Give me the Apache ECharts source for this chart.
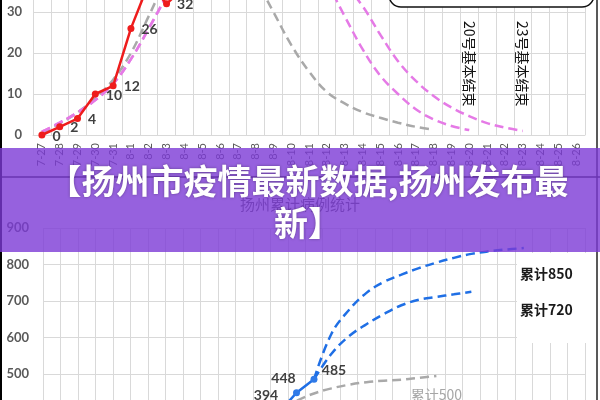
<!DOCTYPE html>
<html><head><meta charset="utf-8">
<script src="https://cdn.jsdelivr.net/npm/echarts@6/dist/echarts.min.js"></script>
<style>html,body{margin:0;padding:0;background:#fff;overflow:hidden}#c{width:600px;height:400px}</style>
</head><body><div id="c"></div>
<script>
// ---- data ----
const dates = ['7-27','7-28','7-29','7-30','7-31','8-1','8-2','8-3','8-4','8-5','8-6','8-7','8-8','8-9','8-10','8-11','8-12','8-13','8-14','8-15','8-16','8-17','8-18','8-19','8-20','8-21','8-22','8-23','8-24','8-25','8-26'];
// top chart: daily new cases
const dailyNew = [0,2,4,10,12,26,37,32,36];
const dailyLabelCount = 8;
const projGray = [0.5,2.8,5.5,9,13.5,20,29,38,45,49,49,45,38,30,22,15.5,10.5,7.7,5.6,4.2,3.0,2.0,1.3];
const projPink20 = [0.8,3,5.5,8.5,12.5,18.5,26,34,42,48,52,54,54,52,48,43,37,29,21,14.5,10,6.3,3.8,2.2,1.2];
const projPink23 = [0.8,3,5.5,8.5,12.5,18.5,26,34,43,49,53,55,56,55,52,48,43,37,31.5,24.5,18,13.2,9.5,6.7,4.6,2.9,1.8,1.0];
const endNotes = [['8-20',17.4,'20号基本结束'],['8-23',17.4,'23号基本结束']];
const topTicks = {min:0,max:40,interval:10};
// bottom chart: cumulative cases
const cumulative = [0,2,6,16,28,54,91,123,159,200,245,297,345,394,448,485];
const cumLabelIdx = [13,14,15];
const cum500Start = 12, cum500 = [365,400,426,446,460,470,477,481,484,489,494];
const cum850Start = 15, cum850 = [485,610,675,722,752,772,790,805,818,829,836,841,845];
const cum720Start = 15, cum720 = [485,555,603,636,664,688,703,711,718,725];
const cumNotes = ['累计500','累计850','累计720'];
const bottomTicks = {min:0,max:900,interval:100};
const chartTitle = '扬州累计病例统计';
const banner = '【扬州市疫情最新数据,扬州发布最\n新】';

// ---- helpers ----
function pad(start, arr){ const out = []; for(let i=0;i<start;i++) out.push('-'); return out.concat(arr); }
const numFont = 'Lato, "Liberation Sans", sans-serif';
const cjk = '"Noto Sans CJK SC", sans-serif';
const gridC = '#d9d9d9';
const labelOffsets = {13:[-13,-17],14:[-13,-14],15:[20,-9]};

const chart = echarts.init(document.getElementById('c'), null, {renderer:'canvas'});
const dashPink = {color:'#e57ae6', width:2.5, type:[9,5]};
const dashGray = {color:'#a9a9a9', width:2.5, type:[9,5]};
const dashBlue = {color:'#1f6fe5', width:2.5, type:[9,5]};

const cum500Data = pad(cum500Start, cum500).map((v,i,a)=> i===a.length-1 ? {value:v, label:{show:true, formatter:cumNotes[0], position:'bottom', distance:12, color:'#a6a6a6', fontSize:14, fontFamily:cjk}} : v);

chart.setOption({
  animation:false,
  backgroundColor:'#fff',
  title:{text:chartTitle, left:'center', top:192, textStyle:{fontSize:15, fontWeight:'normal', color:'#595959', fontFamily:cjk}},
  grid:[
    {left:33, right:15, top:-29, height:164, containLabel:false, outerBoundsMode:'none'},
    {left:43, right:15, top:228, height:328, containLabel:false, outerBoundsMode:'none'}
  ],
  xAxis:[
    {type:'category', gridIndex:0, data:dates, boundaryGap:true,
     axisLine:{lineStyle:{color:gridC}}, axisTick:{show:false},
     axisLabel:{interval:0, rotate:90, margin:8, fontSize:11, color:'#595959', fontFamily:numFont},
     splitLine:{show:true, interval:0, lineStyle:{color:gridC}}},
    {type:'category', gridIndex:1, data:dates, boundaryGap:true,
     axisLine:{lineStyle:{color:gridC}}, axisTick:{show:false}, axisLabel:{show:false},
     splitLine:{show:true, interval:0, lineStyle:{color:gridC}}}
  ],
  yAxis:[
    {type:'value', gridIndex:0, min:topTicks.min, max:topTicks.max, interval:topTicks.interval,
     axisLine:{show:false}, axisTick:{show:false},
     axisLabel:{margin:11, fontSize:13, fontWeight:'bold', color:'#595959', fontFamily:numFont},
     splitLine:{lineStyle:{color:gridC}}},
    {type:'value', gridIndex:1, min:bottomTicks.min, max:bottomTicks.max, interval:bottomTicks.interval,
     axisLine:{show:false}, axisTick:{show:false},
     axisLabel:{margin:14, fontSize:13, fontWeight:'bold', color:'#595959', fontFamily:numFont},
     splitLine:{lineStyle:{color:gridC}}}
  ],
  series:[
    {type:'line', xAxisIndex:0, yAxisIndex:0, data:projGray, smooth:0.4, symbol:'none', lineStyle:dashGray, clip:true, z:2},
    {type:'line', xAxisIndex:0, yAxisIndex:0, data:projPink20, smooth:0.4, symbol:'none', lineStyle:dashPink, clip:true, z:2,
     markPoint:{symbol:'circle', symbolSize:0, silent:true,
       label:{show:true, position:'inside', rotate:-90, color:'#111', fontSize:14, fontFamily:cjk, formatter:p=>p.name},
       data:endNotes.map(n=>({name:n[2], coord:[n[0], n[1]]}))}},
    {type:'line', xAxisIndex:0, yAxisIndex:0, data:projPink23, smooth:0.4, symbol:'none', lineStyle:dashPink, clip:true, z:2},
    {type:'line', xAxisIndex:0, yAxisIndex:0, data:dailyNew, symbol:'circle', symbolSize:7, clip:true, z:5,
     lineStyle:{color:'#ee1c1c', width:2.5}, itemStyle:{color:'#ee1c1c'},
     label:{show:true, position:'right', distance:7, offset:[0,1], fontSize:14, fontWeight:'bold', color:'#404040', fontFamily:numFont,
       formatter:p=> p.dataIndex < dailyLabelCount ? String(p.value) : ''}},
    {type:'line', xAxisIndex:1, yAxisIndex:1, data:cum500Data, smooth:0.4, symbol:'circle', symbolSize:0, showSymbol:true, lineStyle:dashGray, itemStyle:{color:'#a9a9a9'}, clip:false, z:2},
    {type:'line', xAxisIndex:1, yAxisIndex:1, data:pad(cum850Start, cum850), smooth:0.4, symbol:'none', lineStyle:dashBlue, clip:true, z:2},
    {type:'line', xAxisIndex:1, yAxisIndex:1, data:pad(cum720Start, cum720), smooth:0.4, symbol:'none', lineStyle:dashBlue, clip:true, z:2},
    {type:'line', xAxisIndex:1, yAxisIndex:1, symbol:'circle', symbolSize:7, clip:true, z:5,
     lineStyle:{color:'#1f6fe5', width:2.5}, itemStyle:{color:'#2f7ae8'},
     data:cumulative.map((v,i)=> cumLabelIdx.includes(i) ? {value:v, label:{show:true, position:'inside', offset:labelOffsets[i], fontSize:14, fontWeight:'bold', color:'#404040', fontFamily:numFont}} : v)}
  ],
  graphic:[
    {type:'rect', silent:true, z:50, shape:{x:389, y:-30, width:205, height:37, r:12}, style:{fill:'#fff', stroke:'#111', lineWidth:1.5}},
    {type:'rect', silent:true, z:50, shape:{x:517, y:253, width:70, height:90}, style:{fill:'#fff'}},
    {type:'text', silent:true, z:51, x:520, y:274, style:{text:cumNotes[1], font:'bold 14px "Noto Sans CJK SC", sans-serif', fill:'#1a1a1a', verticalAlign:'middle'}},
    {type:'text', silent:true, z:51, x:520, y:310, style:{text:cumNotes[2], font:'bold 14px "Noto Sans CJK SC", sans-serif', fill:'#1a1a1a', verticalAlign:'middle'}},
    {type:'line', silent:true, z:50, shape:{x1:0, y1:177, x2:600, y2:177}, style:{stroke:'#555', lineWidth:2}},
    {type:'line', silent:true, z:50, shape:{x1:1, y1:0, x2:1, y2:400}, style:{stroke:'#000', lineWidth:2}},
    {type:'line', silent:true, z:50, shape:{x1:597, y1:0, x2:597, y2:400}, style:{stroke:'#222', lineWidth:1.5}},
    {type:'rect', silent:true, z:100, shape:{x:0, y:148, width:600, height:104}, style:{fill:'rgba(124,58,214,0.8)'}},
    {type:'text', silent:true, z:101, x:308, y:160, style:{text:banner, font:'bold 34px "Noto Sans CJK SC", sans-serif', fill:'#fff', align:'center', verticalAlign:'top', lineHeight:42, textShadowColor:'rgba(0,0,0,0.35)', textShadowBlur:3}}
  ]
});
</script></body></html>
